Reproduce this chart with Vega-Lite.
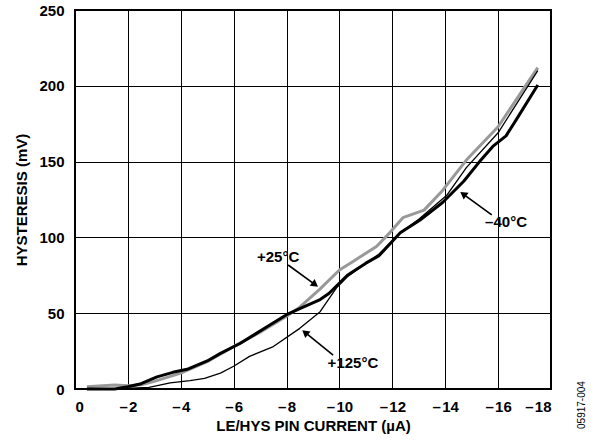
{
  "$schema": "https://vega.github.io/schema/vega-lite/v6.json",
  "width": 476,
  "height": 379,
  "autosize": "none",
  "padding": {"left": 75, "top": 10, "right": 46, "bottom": 52},
  "background": "white",
  "config": {
    "view": {"stroke": "black", "strokeWidth": 2},
    "font": "Liberation Sans",
    "axis": {
      "labelFont": "Liberation Sans",
      "labelFontWeight": "bold",
      "labelFontSize": 15,
      "labelColor": "black",
      "titleFont": "Liberation Sans",
      "titleFontWeight": "bold",
      "titleFontSize": 15,
      "titleColor": "black",
      "domain": false,
      "ticks": false,
      "grid": true,
      "gridColor": "black",
      "gridOpacity": 1,
      "gridWidth": 1
    }
  },
  "datasets": {
    "curves": [
      {"series": "+25°C", "current": -0.45, "hyst": 1.5},
      {"series": "+25°C", "current": -1.5, "hyst": 2.6},
      {"series": "+25°C", "current": -2.0, "hyst": 2.2},
      {"series": "+25°C", "current": -2.5, "hyst": 2.8},
      {"series": "+25°C", "current": -3.0, "hyst": 5.0},
      {"series": "+25°C", "current": -4.0, "hyst": 10.5},
      {"series": "+25°C", "current": -5.0, "hyst": 18},
      {"series": "+25°C", "current": -6.0, "hyst": 28},
      {"series": "+25°C", "current": -7.0, "hyst": 37.5},
      {"series": "+25°C", "current": -8.0, "hyst": 48},
      {"series": "+25°C", "current": -8.5, "hyst": 54},
      {"series": "+25°C", "current": -9.27, "hyst": 66},
      {"series": "+25°C", "current": -10.0, "hyst": 78.5},
      {"series": "+25°C", "current": -10.5, "hyst": 84},
      {"series": "+25°C", "current": -11.4, "hyst": 94},
      {"series": "+25°C", "current": -11.9, "hyst": 103},
      {"series": "+25°C", "current": -12.4, "hyst": 113},
      {"series": "+25°C", "current": -13.2, "hyst": 118},
      {"series": "+25°C", "current": -13.9, "hyst": 131},
      {"series": "+25°C", "current": -14.8, "hyst": 151},
      {"series": "+25°C", "current": -16.0, "hyst": 173},
      {"series": "+25°C", "current": -17.5, "hyst": 212},

      {"series": "–40°C", "current": -0.45, "hyst": 0},
      {"series": "–40°C", "current": -1.5, "hyst": 0},
      {"series": "–40°C", "current": -2.0, "hyst": 1.5},
      {"series": "–40°C", "current": -2.5, "hyst": 3.5},
      {"series": "–40°C", "current": -3.1, "hyst": 8},
      {"series": "–40°C", "current": -3.7, "hyst": 11},
      {"series": "–40°C", "current": -4.24, "hyst": 13},
      {"series": "–40°C", "current": -5.0, "hyst": 18.5},
      {"series": "–40°C", "current": -5.5, "hyst": 23.5},
      {"series": "–40°C", "current": -6.24, "hyst": 30},
      {"series": "–40°C", "current": -7.26, "hyst": 41},
      {"series": "–40°C", "current": -8.0, "hyst": 49},
      {"series": "–40°C", "current": -8.5, "hyst": 53},
      {"series": "–40°C", "current": -9.27, "hyst": 59},
      {"series": "–40°C", "current": -9.6, "hyst": 63},
      {"series": "–40°C", "current": -10.3, "hyst": 75},
      {"series": "–40°C", "current": -11.0, "hyst": 83},
      {"series": "–40°C", "current": -11.5, "hyst": 88},
      {"series": "–40°C", "current": -12.3, "hyst": 103},
      {"series": "–40°C", "current": -13.05, "hyst": 111.5},
      {"series": "–40°C", "current": -13.9, "hyst": 123},
      {"series": "–40°C", "current": -14.7, "hyst": 137},
      {"series": "–40°C", "current": -15.3, "hyst": 150},
      {"series": "–40°C", "current": -15.8, "hyst": 160},
      {"series": "–40°C", "current": -16.3, "hyst": 167},
      {"series": "–40°C", "current": -16.7, "hyst": 178},
      {"series": "–40°C", "current": -17.5, "hyst": 200.5},

      {"series": "+125°C", "current": -1.45, "hyst": 0},
      {"series": "+125°C", "current": -2.8, "hyst": 1.0},
      {"series": "+125°C", "current": -3.6, "hyst": 4},
      {"series": "+125°C", "current": -4.35, "hyst": 5.5},
      {"series": "+125°C", "current": -4.9, "hyst": 7},
      {"series": "+125°C", "current": -5.5, "hyst": 10.5},
      {"series": "+125°C", "current": -6.0, "hyst": 15},
      {"series": "+125°C", "current": -6.6, "hyst": 21.5},
      {"series": "+125°C", "current": -7.5, "hyst": 28},
      {"series": "+125°C", "current": -8.5, "hyst": 40},
      {"series": "+125°C", "current": -9.27, "hyst": 51},
      {"series": "+125°C", "current": -9.9, "hyst": 67},
      {"series": "+125°C", "current": -10.3, "hyst": 74},
      {"series": "+125°C", "current": -11.0, "hyst": 83},
      {"series": "+125°C", "current": -11.5, "hyst": 89},
      {"series": "+125°C", "current": -12.3, "hyst": 103},
      {"series": "+125°C", "current": -13.0, "hyst": 112},
      {"series": "+125°C", "current": -14.07, "hyst": 128},
      {"series": "+125°C", "current": -14.8, "hyst": 146},
      {"series": "+125°C", "current": -16.0, "hyst": 169},
      {"series": "+125°C", "current": -17.5, "hyst": 210}
    ],
    "labels": [
      {"label": "+25°C", "lx": -7.68, "ly": 87.1, "tx": -8.06, "ty": 81.8, "hx": -9.08, "hy": 68.9},
      {"label": "+125°C", "lx": -10.51, "ly": 17.2, "tx": -9.76, "ty": 22.4, "hx": -8.70, "hy": 37.3},
      {"label": "–40°C", "lx": -16.3, "ly": 110.2, "tx": -15.76, "ty": 114.8, "hx": -14.68, "hy": 128.6}
    ],
    "code": [
      {"text": "05917-004", "cx": -19.18, "cy": -10.6}
    ]
  },
  "encoding": {
    "x": {
      "field": "current", "type": "quantitative",
      "scale": {"domain": [0, -18], "nice": false, "zero": false},
      "axis": {
        "values": [0, -2, -4, -6, -8, -10, -12, -14, -16, -18],
        "labelExpr": "datum.value == 0 ? '0' : '–\u200a' + format(abs(datum.value), 'd')",
        "labelPadding": 10,
        "title": "LE/HYS PIN CURRENT (µA)",
        "titlePadding": 4
      }
    },
    "y": {
      "field": "hyst", "type": "quantitative",
      "scale": {"domain": [0, 250], "nice": false},
      "axis": {
        "values": [0, 50, 100, 150, 200, 250],
        "labelPadding": 11,
        "title": "HYSTERESIS (mV)",
        "titlePadding": 9
      }
    }
  },
  "layer": [
    {
      "data": {"name": "curves"},
      "transform": [{"filter": "datum.series == '+25°C'"}],
      "mark": {"type": "line", "color": "#999999", "strokeWidth": 3, "strokeJoin": "round"},
      "encoding": {"order": {"field": "current", "sort": "descending"}}
    },
    {
      "data": {"name": "curves"},
      "transform": [{"filter": "datum.series == '–40°C'"}],
      "mark": {"type": "line", "color": "#000000", "strokeWidth": 3, "strokeJoin": "round"},
      "encoding": {"order": {"field": "current", "sort": "descending"}}
    },
    {
      "data": {"name": "curves"},
      "transform": [{"filter": "datum.series == '+125°C'"}],
      "mark": {"type": "line", "color": "#000000", "strokeWidth": 1.3, "strokeJoin": "round"},
      "encoding": {"order": {"field": "current", "sort": "descending"}}
    },
    {
      "data": {"name": "labels"},
      "mark": {"type": "rule", "color": "black", "strokeWidth": 1.6},
      "encoding": {
        "x": {"field": "tx", "type": "quantitative"},
        "y": {"field": "ty", "type": "quantitative"},
        "x2": {"field": "hx"},
        "y2": {"field": "hy"}
      }
    },
    {
      "data": {"name": "labels"},
      "transform": [{"filter": "datum.label == '+25°C'"}],
      "mark": {"type": "point", "shape": "triangle-up", "filled": true, "color": "black", "opacity": 1, "size": 70, "angle": 126},
      "encoding": {
        "x": {"field": "hx", "type": "quantitative"},
        "y": {"field": "hy", "type": "quantitative"}
      }
    },
    {
      "data": {"name": "labels"},
      "transform": [{"filter": "datum.label == '+125°C'"}],
      "mark": {"type": "point", "shape": "triangle-up", "filled": true, "color": "black", "opacity": 1, "size": 70, "angle": 309},
      "encoding": {
        "x": {"field": "hx", "type": "quantitative"},
        "y": {"field": "hy", "type": "quantitative"}
      }
    },
    {
      "data": {"name": "labels"},
      "transform": [{"filter": "datum.label == '–40°C'"}],
      "mark": {"type": "point", "shape": "triangle-up", "filled": true, "color": "black", "opacity": 1, "size": 70, "angle": 306},
      "encoding": {
        "x": {"field": "hx", "type": "quantitative"},
        "y": {"field": "hy", "type": "quantitative"}
      }
    },
    {
      "data": {"name": "labels"},
      "mark": {"type": "text", "font": "Liberation Sans", "fontWeight": "bold", "fontSize": 15, "color": "black", "align": "center", "baseline": "middle"},
      "encoding": {
        "x": {"field": "lx", "type": "quantitative"},
        "y": {"field": "ly", "type": "quantitative"},
        "text": {"field": "label"}
      }
    },
    {
      "data": {"name": "code"},
      "mark": {"type": "text", "font": "Liberation Sans", "fontSize": 10, "color": "black", "align": "center", "baseline": "middle", "angle": 270},
      "encoding": {
        "x": {"field": "cx", "type": "quantitative"},
        "y": {"field": "cy", "type": "quantitative"},
        "text": {"field": "text"}
      }
    }
  ]
}
